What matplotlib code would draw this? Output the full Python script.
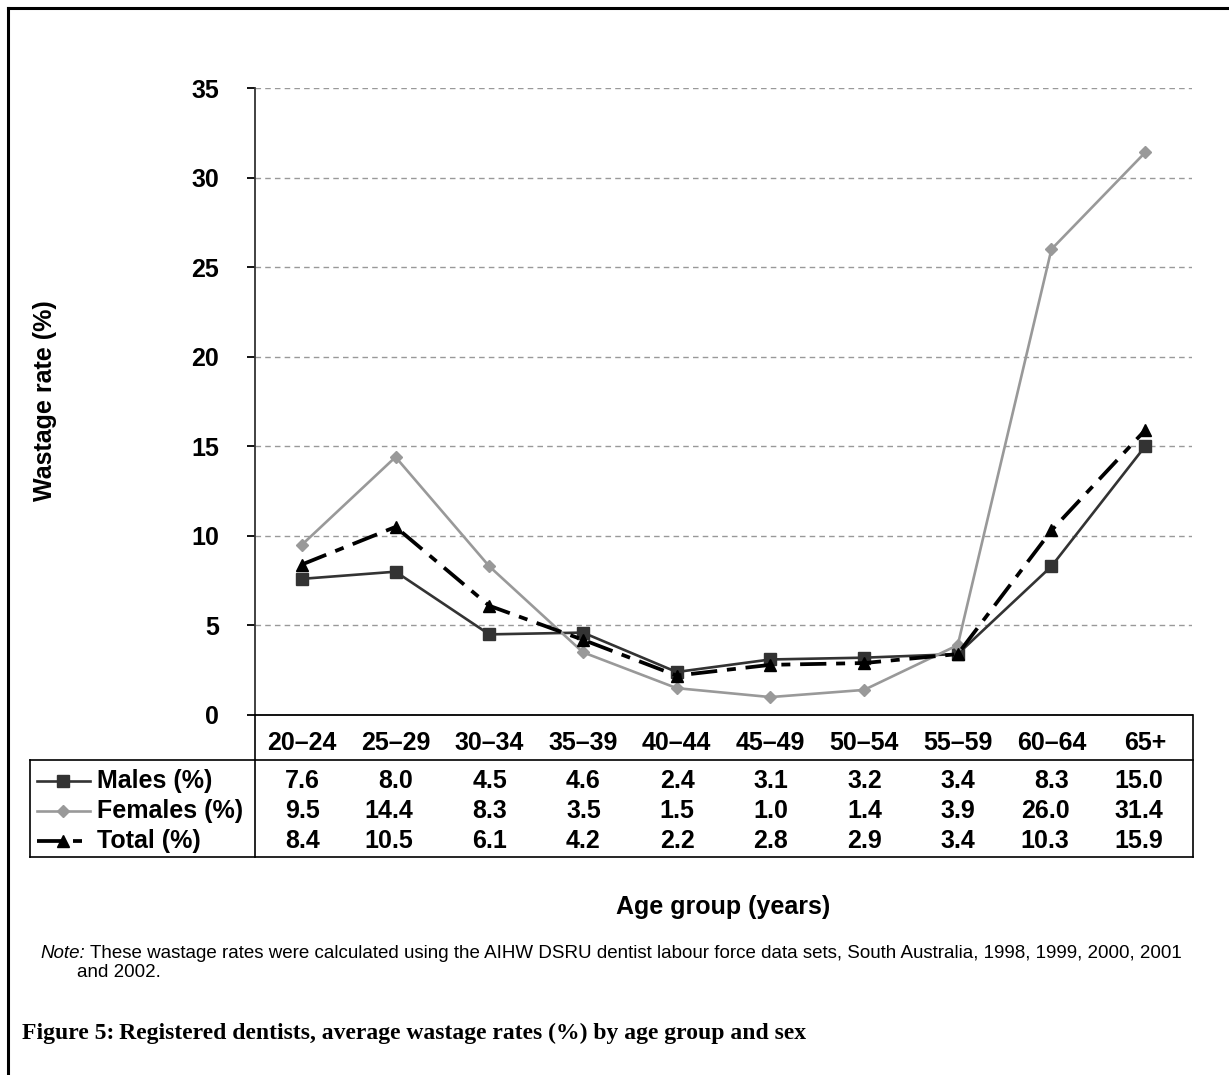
import matplotlib.pyplot as plt
from matplotlib.lines import Line2D
from matplotlib.transforms import blended_transform_factory

plt.rcParams['font.family'] = ['Liberation Sans', 'DejaVu Sans']

# data
age_groups = ['20–24', '25–29', '30–34', '35–39', '40–44',
              '45–49', '50–54', '55–59', '60–64', '65+']
males = [7.6, 8.0, 4.5, 4.6, 2.4, 3.1, 3.2, 3.4, 8.3, 15.0]
females = [9.5, 14.4, 8.3, 3.5, 1.5, 1.0, 1.4, 3.9, 26.0, 31.4]
total = [8.4, 10.5, 6.1, 4.2, 2.2, 2.8, 2.9, 3.4, 10.3, 15.9]
yticks = [0, 5, 10, 15, 20, 25, 30, 35]

W, H = 1229, 1075
fig = plt.figure(figsize=(W / 100, H / 100), dpi=100)


def fx(x):
    return x / W


def fy(y):
    return 1 - y / H


ax = fig.add_axes([fx(255), fy(715), fx(1192) - fx(255), fy(88) - fy(715)])

x = list(range(len(age_groups)))
tot_dash = (0, (7, 2.6, 2.4, 2.6))
series = [
    ('Males (%)', males, dict(color='#333333', lw=1.9, marker='s', ms=8.5, ls='-')),
    ('Females (%)', females, dict(color='#999999', lw=1.9, marker='D', ms=6.5, ls='-')),
    ('Total (%)', total, dict(color='black', lw=2.7, marker='^', ms=9, ls=tot_dash)),
]
for name, vals, st in series:
    ax.plot(x, vals, color=st['color'], lw=st['lw'], marker=st['marker'],
            ms=st['ms'], ls=st['ls'], mec=st['color'], mfc=st['color'], zorder=3)

ax.set_xlim(-0.5, 9.5)
ax.set_ylim(0, 35)
ax.set_yticks(yticks)
ax.set_xticks([])
ax.yaxis.grid(True, ls=(0, (4, 3)), color='#999999', lw=1)
ax.set_axisbelow(True)
for s in ['top', 'right']:
    ax.spines[s].set_visible(False)
ax.spines['left'].set_color('#333333')
ax.spines['left'].set_linewidth(1.3)
ax.spines['bottom'].set_linewidth(1.3)
ax.tick_params(axis='y', direction='out', length=6, width=1.3, pad=20,
               labelsize=18)
for lab in ax.get_yticklabels():
    lab.set_fontweight('bold')

fig.text(fx(45), fy(401), 'Wastage rate (%)', rotation=90, ha='center', va='center',
         fontsize=18, fontweight='bold')

# data table below the plot
tr = blended_transform_factory(ax.transData, fig.transFigure)
row_y = [fy(781), fy(811), fy(841)]
for i, lab in enumerate(age_groups):
    fig.text(i, fy(743), lab, transform=tr, ha='center', va='center',
             fontsize=18, fontweight='bold')
for (name, vals, st), yy in zip(series, row_y):
    for i, v in enumerate(vals):
        fig.text(i + 0.19, yy, f'{v:.1f}', transform=tr, ha='right', va='center',
                 fontsize=18, fontweight='bold')
    fig.text(fx(97), yy, name, ha='left', va='center', fontsize=18, fontweight='bold')
    fig.add_artist(Line2D([fx(37), fx(90)], [yy, yy], color=st['color'], lw=st['lw'],
                          ls=st['ls'], transform=fig.transFigure))
    fig.add_artist(Line2D([fx(63)], [yy], color=st['color'], marker=st['marker'],
                          ms=st['ms'], mec=st['color'], mfc=st['color'],
                          transform=fig.transFigure))

tb = 857
for xs, ys in [([255, 255], [715, tb]), ([1193, 1193], [715, tb]),
               ([30, 30], [760, tb]), ([30, 1193], [760, 760]),
               ([30, 1193], [tb, tb])]:
    fig.add_artist(Line2D([fx(v) for v in xs], [fy(v) for v in ys], color='black',
                          lw=1.2, transform=fig.transFigure))

fig.text(fx(723), fy(907), 'Age group (years)', ha='center', va='center',
         fontsize=18, fontweight='bold')

# note and caption
fig.text(fx(40), fy(958), 'Note:', ha='left', va='baseline', fontsize=13.5,
         style='italic')
fig.text(fx(90), fy(958), 'These wastage rates were calculated using the AIHW DSRU dentist '
         'labour force data sets, South Australia, 1998, 1999, 2000, 2001',
         ha='left', va='baseline', fontsize=13.5)
fig.text(fx(77), fy(977), 'and 2002.', ha='left', va='baseline', fontsize=13.5)
fig.text(fx(22), fy(1039), 'Figure 5:\u2009Registered dentists, average wastage rates (%) by age group and sex',
         ha='left', va='baseline', fontsize=17, fontweight='bold',
         family=['Liberation Serif', 'DejaVu Serif'])

# page frame
fig.add_artist(Line2D([fx(8), fx(8)], [fy(8), 0], color='black', lw=2.2,
                      transform=fig.transFigure))
fig.add_artist(Line2D([fx(8), 1], [fy(8), fy(8)], color='black', lw=2.2,
                      transform=fig.transFigure))

fig.savefig('out.png', dpi=100)
